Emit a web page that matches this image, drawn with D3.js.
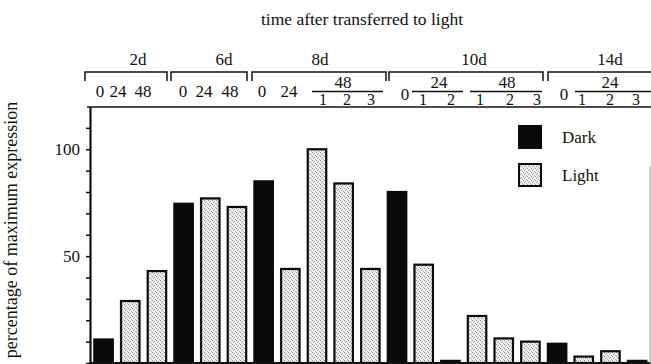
<!DOCTYPE html>
<html>
<head>
<meta charset="utf-8">
<script src="https://cdn.jsdelivr.net/npm/d3@7"></script>
<style>
  body { margin: 0; background: #fff; }
  svg text { font-family: "Liberation Serif", "Times New Roman", serif; fill: #111; }
</style>
</head>
<body>
<div id="chart"></div>
<script>
// ---
// Data
// ---
const days = ['2d', '6d', '8d', '10d', '14d']
const barDay = [0, 0, 0, 1, 1, 1, 2, 2, 2, 2, 2, 3, 3, 3, 3, 3, 3, 4, 4, 4, 4]
const barHour = ['0', '24', '48', '0', '24', '48', '0', '24', '48', '48', '48', '0', '24', '24', '48', '48', '48', '0', '24', '24', '24']
const barRep = ['', '', '', '', '', '', '', '', '1', '2', '3', '', '1', '2', '1', '2', '3', '', '1', '2', '3']
const condition = ['Dark', 'Light', 'Light', 'Dark', 'Light', 'Light', 'Dark', 'Light', 'Light', 'Light', 'Light',
  'Dark', 'Light', 'Light', 'Light', 'Light', 'Light', 'Dark', 'Light', 'Light', 'Light']
const expression = [11, 29, 43, 74.5, 77, 73, 85, 44, 100, 84, 44, 80, 46, 1, 22, 11.5, 10, 9, 3, 5.5, 1]
const yTicks = [0, 10, 20, 30, 40, 50, 60, 70, 80, 90, 100, 110]
const yLabelled = [50, 100]
const legendItems = ['Dark', 'Light']

// ---
// Layout (header is its own hand-set strip in the original figure)
// ---
const width = 651
const height = 364
const bracketTop = 72
const subRuleY = 91.5
const headRuleY = 107
const groupSpan = [[85, 167, 138], [171, 247, 224], [252, 386, 320], [389, 543, 474], [548, 651, 610]]
// plain hour labels: [bar index, x, baseline]
const hourAt = [[0, 100, 97], [1, 118, 97], [2, 143, 97], [3, 183, 97], [4, 204, 97], [5, 230, 97],
  [6, 262, 97], [7, 289, 97], [11, 405, 100], [17, 564, 100]]
// hour labels with replicate rule: [first bar, last bar, x, rule x0, rule x1]
const hourSpan = [[8, 10, 343, 312, 383], [12, 13, 439, 412, 463], [14, 16, 507, 470, 542], [18, 20, 610, 575, 651]]
const repX = [323, 347, 371, 423, 451, 480, 510, 537, 582, 610, 636]

const svg = d3.select('#chart').append('svg')
  .attr('width', width)
  .attr('height', height)

const defs = svg.append('defs')
const pat = defs.append('pattern')
  .attr('id', 'stipple')
  .attr('patternUnits', 'userSpaceOnUse')
  .attr('width', 4)
  .attr('height', 4)
pat.append('rect').attr('width', 4).attr('height', 4).attr('fill', '#efefef')
;[[0, 0, '#8a8a8a'], [2, 1, '#a5a5a5'], [1, 2, '#999'], [3, 3, '#b0b0b0']].forEach(d => {
  pat.append('rect').attr('x', d[0]).attr('y', d[1]).attr('width', 1).attr('height', 1).attr('fill', d[2])
})

// Scales
const x = d3.scaleBand()
  .domain(d3.range(expression.length))
  .range([89, 651.7])
  .paddingInner(0.307)
  .paddingOuter(0.2)

const y = d3.scaleLinear()
  .domain([0, 120])
  .range([363, 106.5])

// Title
svg.append('text')
  .attr('x', 362)
  .attr('y', 25)
  .attr('text-anchor', 'middle')
  .style('font-size', '17.5px')
  .text('time after transferred to light')

// Header brackets
const head = svg.append('g').attr('stroke', '#111').attr('stroke-width', 1.5).attr('fill', 'none')
groupSpan.forEach(g => {
  head.append('path').attr('d', `M${g[0]},${bracketTop + 9}V${bracketTop}H${g[1]}` + (g[1] < 650 ? `V${bracketTop + 9}` : ''))
})
head.append('line').attr('x1', 87).attr('x2', 651).attr('y1', headRuleY).attr('y2', headRuleY)
hourSpan.forEach(h => {
  head.append('line').attr('x1', h[3]).attr('x2', h[4]).attr('y1', subRuleY).attr('y2', subRuleY)
})

svg.selectAll('.day')
    .data(days)
  .enter().append('text')
    .attr('class', 'day')
    .attr('x', (d, i) => groupSpan[i][2])
    .attr('y', 65)
    .attr('text-anchor', 'middle')
    .style('font-size', '17px')
    .text(d => d)

svg.selectAll('.hour')
    .data(hourAt)
  .enter().append('text')
    .attr('class', 'hour')
    .attr('x', d => d[1])
    .attr('y', d => d[2])
    .attr('text-anchor', 'middle')
    .style('font-size', '17px')
    .text(d => barHour[d[0]])

svg.selectAll('.hourspan')
    .data(hourSpan)
  .enter().append('text')
    .attr('class', 'hourspan')
    .attr('x', d => d[2])
    .attr('y', 88)
    .attr('text-anchor', 'middle')
    .style('font-size', '17px')
    .text(d => barHour[d[0]])

const reps = barRep.map((r, i) => ({ r, i })).filter(d => d.r !== '')
svg.selectAll('.rep')
    .data(reps)
  .enter().append('text')
    .attr('class', 'rep')
    .attr('x', (d, k) => repX[k])
    .attr('y', 105)
    .attr('text-anchor', 'middle')
    .style('font-size', '16px')
    .text(d => d.r)

// Bars
svg.selectAll('.bar')
    .data(expression)
  .enter().append('rect')
    .attr('class', 'bar')
    .attr('x', (d, i) => x(i))
    .attr('y', d => y(d))
    .attr('width', x.bandwidth())
    .attr('height', d => y(0) - y(d))
    .attr('fill', (d, i) => condition[i] === 'Dark' ? '#0a0a0a' : 'url(#stipple)')
    .attr('stroke', '#0a0a0a')
    .attr('stroke-width', 2.2)

// Axes
const yAxis = d3.axisLeft(y)
  .tickValues(yTicks)
  .tickSize(4)
  .tickSizeOuter(0)
  .tickPadding(6)
  .tickFormat(d => yLabelled.includes(d) ? d : '')

const ya = svg.append('g')
  .attr('transform', 'translate(90,0)')
  .call(yAxis)
ya.select('.domain').attr('stroke', '#111').attr('stroke-width', 2.2)
ya.selectAll('.tick line').attr('stroke', '#111').attr('stroke-width', 1.5)
ya.selectAll('.tick text')
  .style('font-family', '"Liberation Serif", serif')
  .style('font-size', '17px')
  .attr('fill', '#111')

svg.append('line')
  .attr('x1', 89).attr('x2', 651)
  .attr('y1', y(0)).attr('y2', y(0))
  .attr('stroke', '#111').attr('stroke-width', 2)

svg.append('line')
  .attr('x1', 650).attr('x2', 650)
  .attr('y1', 166).attr('y2', 364)
  .attr('stroke', '#999').attr('stroke-width', 1)

svg.append('text')
  .attr('transform', 'translate(17,230) rotate(-90)')
  .attr('text-anchor', 'middle')
  .style('font-size', '18px')
  .text('percentage of maximum expression')

// Legend
const legend = svg.selectAll('.legend')
    .data(legendItems)
  .enter().append('g')
    .attr('class', 'legend')
    .attr('transform', (d, i) => `translate(519,${126 + i * 38})`)
legend.append('rect')
  .attr('width', 22)
  .attr('height', 22)
  .attr('fill', d => d === 'Dark' ? '#0a0a0a' : 'url(#stipple)')
  .attr('stroke', '#0a0a0a')
  .attr('stroke-width', 2)
legend.append('text')
  .attr('x', 43)
  .attr('y', 17)
  .style('font-size', '17px')
  .text(d => d)
</script>
</body>
</html>
